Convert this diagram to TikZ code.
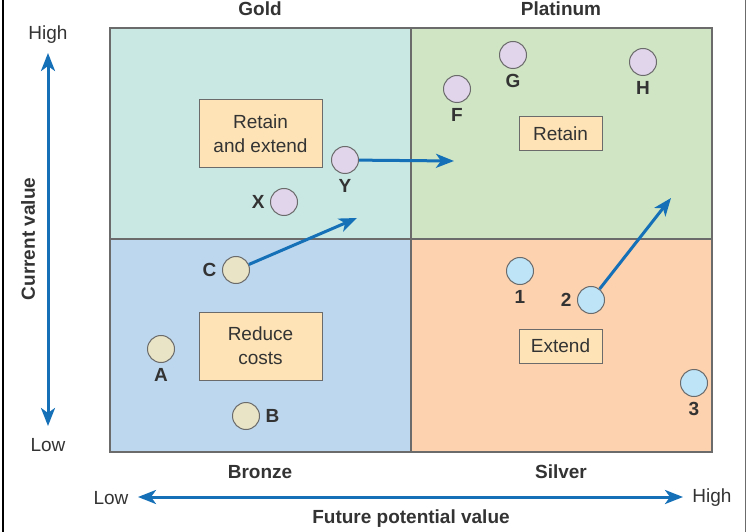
\documentclass[tikz,border=0pt]{standalone}
\usepackage{fontspec}
\setmainfont{Liberation Sans}
\usetikzlibrary{arrows.meta,positioning}

\definecolor{goldfill}{HTML}{C9E8E4}
\definecolor{platfill}{HTML}{CFE5C4}
\definecolor{bronzefill}{HTML}{BDD7EE}
\definecolor{silverfill}{HTML}{FDD2AF}
\definecolor{boxfill}{HTML}{FDE3B6}
\definecolor{edgegray}{HTML}{6B6B6B}
\definecolor{inkgray}{HTML}{333333}
\definecolor{arrowblue}{HTML}{1570B8}
\definecolor{purplefill}{HTML}{E0D5EA}
\definecolor{beigefill}{HTML}{E8E4C5}
\definecolor{bluefill}{HTML}{BEE4F8}

\newcommand{\gridfont}{\fontsize{19}{24}\selectfont}

\tikzset{
  quad/.style = {draw=edgegray, line width=1.2pt},
  actionbox/.style = {draw=edgegray, fill=boxfill, line width=1pt, align=center,
    text=inkgray, inner sep=0pt},
  client/.style = {circle, draw=edgegray, line width=1pt, minimum size=27pt, inner sep=0pt},
  tag/.style = {font=\gridfont\bfseries, text=inkgray},
  tip/.tip = {Stealth[length=18pt,width=14pt,inset=5pt]},
  move/.style = {draw=arrowblue, line width=3pt, -tip},
  axis/.style = {draw=arrowblue, line width=3pt, tip-tip}
}

\begin{document}
\begin{tikzpicture}[x=1pt, y=-1pt, font=\gridfont]
  \useasboundingbox (0,0) rectangle (748,532);
  % frame
  \draw[line width=1.5pt] (3,0) -- (3,532);
  \draw[edgegray, line width=1pt] (745,0) -- (745,532);

  % quadrants
  \filldraw[quad, fill=goldfill]   (110,28)  rectangle (411,239);
  \filldraw[quad, fill=platfill]   (411,28)  rectangle (712,239);
  \filldraw[quad, fill=bronzefill] (110,239) rectangle (411,452);
  \filldraw[quad, fill=silverfill] (411,239) rectangle (712,452);

  \node[tag] (gold)     at (260,9)   {Gold};
  \node[tag] (platinum) at (561,9)   {Platinum};
  \node[tag] (bronze)   at (260,472) {Bronze};
  \node[tag] (silver)   at (561,472) {Silver};

  % axes
  \node[text=inkgray] (yhigh) at (48,35)  {High};
  \node[text=inkgray] (ylow)  at (48,445) {Low};
  \coordinate (ytop) at (48,53);
  \coordinate (ybot) at (48,426);
  \draw[axis] (ytop) -- (ybot);
  \node[tag, rotate=90] (yname) at (28,239) {Current value};

  \node[text=inkgray] (xlow)  at (111,498) {Low};
  \node[text=inkgray] (xhigh) at (712,498) {High};
  \coordinate (xleft)  at (138,497);
  \coordinate (xright) at (683,497);
  \draw[axis] (xleft) -- (xright);
  \node[tag] (xname) at (411,519) {Future potential value};

  % actions
  \node[actionbox, minimum width=123pt, minimum height=68pt] (retext) at (260.5,134) {Retain\\and extend};
  \node[actionbox, minimum width=83pt, minimum height=34pt]  (retain) at (560.5,134) {Retain};
  \node[actionbox, minimum width=123pt, minimum height=68pt] (reduce) at (260.5,346) {Reduce\\costs};
  \node[actionbox, minimum width=83pt, minimum height=34pt]  (extend) at (560.5,346) {Extend};

  % clients
  \node[client, fill=purplefill] (F) at (457,89)  {};
  \node[client, fill=purplefill] (G) at (513,55)  {};
  \node[client, fill=purplefill] (H) at (643,62)  {};
  \node[client, fill=purplefill] (Y) at (345,160) {};
  \node[client, fill=purplefill] (X) at (284,202) {};
  \node[client, fill=beigefill]  (C) at (236,270) {};
  \node[client, fill=beigefill]  (A) at (161,349) {};
  \node[client, fill=beigefill]  (B) at (246,416) {};
  \node[client, fill=bluefill]   (1) at (520,271) {};
  \node[client, fill=bluefill]   (2) at (591,300) {};
  \node[client, fill=bluefill]   (3) at (694,383) {};

  \foreach \c/\lbl in {F/below, G/below, H/below, Y/below, A/below, 1/below, 3/below,
                       X/left, C/left, 2/left, B/right}
    \node[tag, \lbl=2pt of \c] {\c};

  % moves
  \coordinate (Yto) at (454,161);
  \coordinate (Cto) at (357,218);
  \coordinate (2to) at (671,198);
  \draw[move] (Y) -- (Yto);
  \draw[move] (C) -- (Cto);
  \draw[move] (2) -- (2to);
\end{tikzpicture}
\end{document}
